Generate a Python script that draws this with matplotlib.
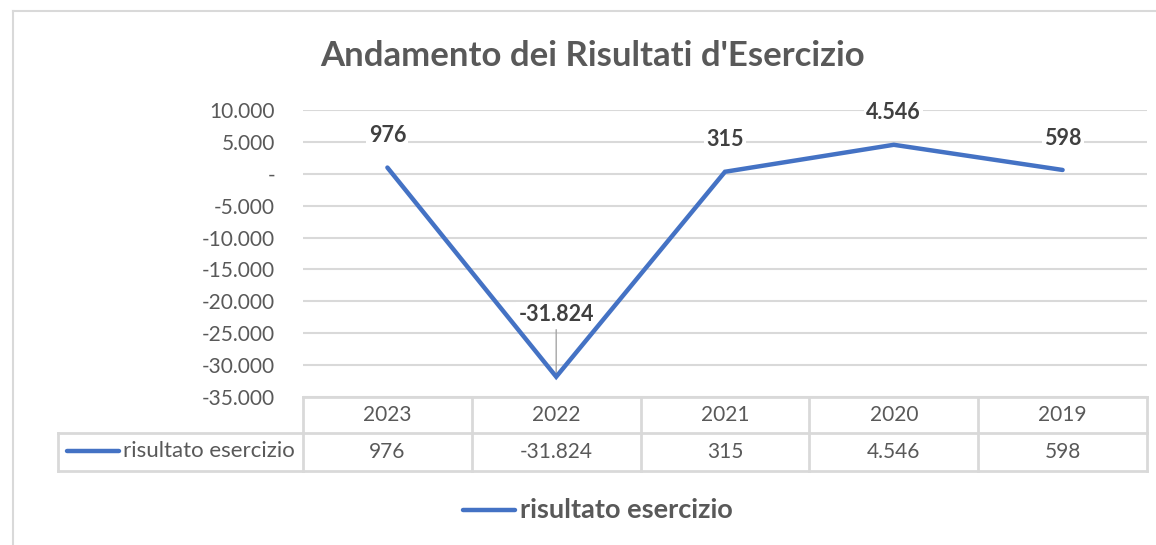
import matplotlib
matplotlib.use("Agg")
import matplotlib.pyplot as plt
import matplotlib.transforms as mtransforms
from matplotlib.lines import Line2D
from matplotlib.ticker import FuncFormatter

# dati
anni = ["2023", "2022", "2021", "2020", "2019"]
risultato = [976, -31824, 315, 4546, 598]
serie = "risultato esercizio"

W, H = 1156, 545
plt.rcParams["font.family"] = ["Lato", "DejaVu Sans"]

blu = "#4472C4"
grigio_testo = "#595959"
grigio_label = "#404040"
grigio_linee = "#D9D9D9"


def fmt_it(v):
    v = int(round(v))
    if v == 0:
        return "-"
    s = f"{abs(v):,}".replace(",", ".")
    return ("-" if v < 0 else "") + s


fig = plt.figure(figsize=(W / 100, H / 100), dpi=100)

def fx(x):
    return x / W

def fy(y):
    return 1 - y / H

# cornice del grafico
fig.add_artist(Line2D([fx(13), fx(W)], [fy(11), fy(11)], color=grigio_linee, lw=1.5))
fig.add_artist(Line2D([fx(13), fx(13)], [fy(11), fy(H)], color=grigio_linee, lw=1.5))

ax = fig.add_axes([fx(303), fy(397), fx(1147) - fx(303), fy(110) - fy(397)])
x = list(range(len(anni)))
ax.plot(x, risultato, color=blu, lw=3.2, solid_capstyle="round", solid_joinstyle="miter", zorder=3)
ax.set_xlim(-0.5, len(anni) - 0.5)
ax.set_ylim(-35000, 10000)
ax.set_yticks(range(-35000, 10001, 5000))
ax.yaxis.set_major_formatter(FuncFormatter(lambda v, p: fmt_it(v)))
ax.set_xticks([])
ax.tick_params(axis="y", length=0, pad=20, labelsize=15, labelcolor=grigio_testo)
ax.grid(axis="y", color=grigio_linee, lw=1.5)
ax.set_axisbelow(True)
for s in ax.spines.values():
    s.set_visible(False)

# etichette dati (sotto la linea, sopra la griglia)
for xi, v in zip(x, risultato):
    if v < -20000:
        ax.annotate(fmt_it(v), (xi, v), xytext=(0, 45), textcoords="offset points",
                    ha="center", va="center", fontsize=15.5, fontweight="bold", color=grigio_label,
                    bbox=dict(boxstyle="square,pad=0.1", fc="white", ec="none"),
                    arrowprops=dict(arrowstyle="-", color="#A6A6A6", lw=1, shrinkA=2, shrinkB=0),
                    zorder=2.5)
    else:
        ax.annotate(fmt_it(v), (xi, v), xytext=(0, 23), textcoords="offset points",
                    ha="center", va="center", fontsize=15.5, fontweight="bold", color=grigio_label,
                    bbox=dict(boxstyle="square,pad=0.1", fc="white", ec="none"), zorder=2.5)

# titolo
fig.text(fx(593), fy(56), "Andamento dei Risultati d'Esercizio", ha="center", va="center",
         fontsize=25, fontweight="bold", color=grigio_testo)

# tabella dati sotto l'asse
tr = mtransforms.blended_transform_factory(ax.transData, fig.transFigure)
y_top, y_mid, y_bot = fy(397), fy(433), fy(471)
x_left = -0.5 - (303 - 58) / (844 / len(anni))
kw = dict(color=grigio_linee, lw=2, transform=tr, clip_on=False)
ax.add_line(Line2D([-0.5, len(anni) - 0.5], [y_top, y_top], **kw))
ax.add_line(Line2D([x_left, len(anni) - 0.5], [y_mid, y_mid], **kw))
ax.add_line(Line2D([x_left, len(anni) - 0.5], [y_bot, y_bot], **kw))
ax.add_line(Line2D([x_left, x_left], [y_mid, y_bot], **kw))
for i in range(len(anni) + 1):
    ax.add_line(Line2D([i - 0.5, i - 0.5], [y_top, y_bot], **kw))
for xi, a, v in zip(x, anni, risultato):
    ax.text(xi, (y_top + y_mid) / 2, a, transform=tr, ha="center", va="center",
            fontsize=15, color=grigio_testo)
    ax.text(xi, (y_mid + y_bot) / 2, fmt_it(v), transform=tr, ha="center", va="center",
            fontsize=15, color=grigio_testo)

# chiave della legenda nella tabella
fig.add_artist(Line2D([fx(67), fx(119)], [fy(451), fy(451)], color=blu, lw=3.2, solid_capstyle="round"))
fig.text(fx(123), fy(451), serie, ha="left", va="center", fontsize=16, color=grigio_testo)

# legenda in basso
fig.add_artist(Line2D([fx(463), fx(515)], [fy(510), fy(510)], color=blu, lw=3.2, solid_capstyle="round"))
fig.text(fx(520), fy(510), serie, ha="left", va="center", fontsize=19.5, fontweight="bold", color=grigio_testo)

fig.savefig("out.png", dpi=100)
